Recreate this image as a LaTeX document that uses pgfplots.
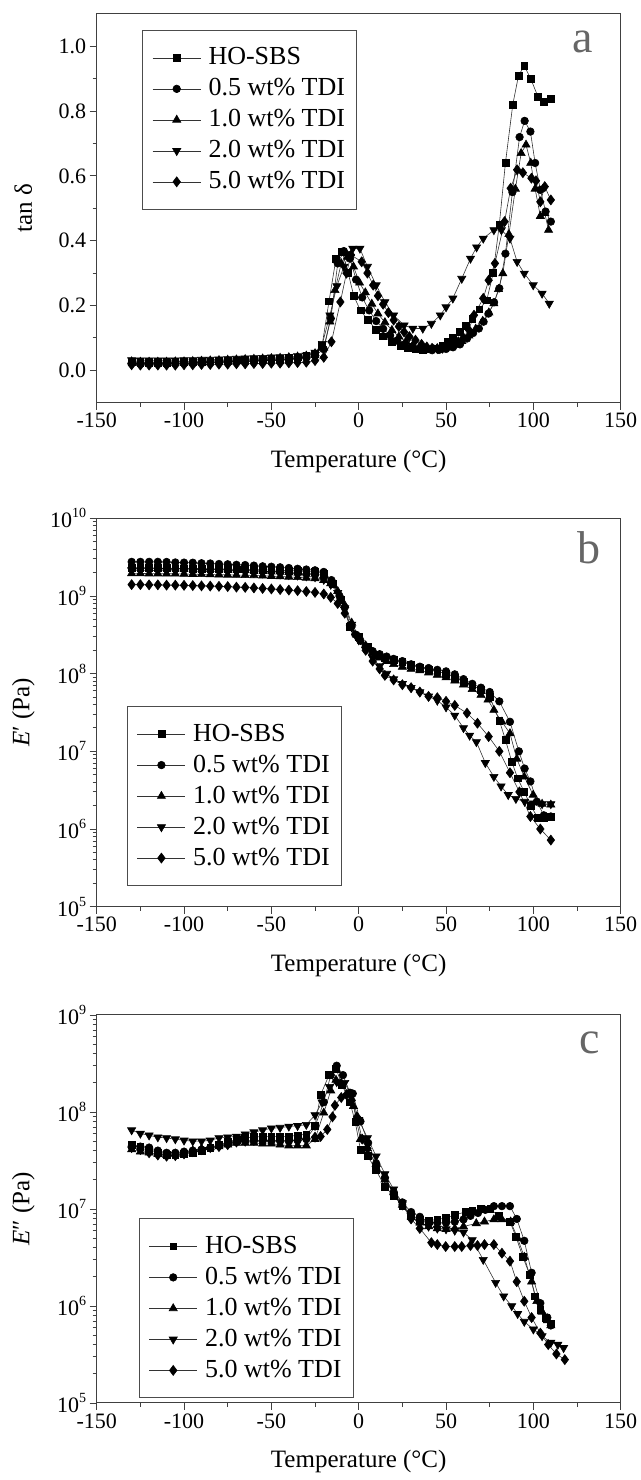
\documentclass[border=0pt]{standalone}
\usepackage{fontspec}
\setmainfont{Liberation Serif}
\usepackage{pgfplots}
\pgfplotsset{compat=1.18}
\newcommand\tp[1]{10\raisebox{0.45em}{\fontsize{14}{14}\selectfont #1}}
\tikzset{plabel/.style={font=\fontsize{46}{46}\selectfont, text=black!60, anchor=center}}
\pgfplotsset{
  myaxis/.style={
    scale only axis, width=524pt,
    xmin=-150, xmax=150, xtick={-150,-100,...,150}, minor x tick num=1,
    tick pos=left, tick align=outside,
    major tick length=7pt, minor tick length=4pt,
    axis line style={black!75, line width=1pt},
    every tick/.style={black!75, line width=0.9pt},
    /pgf/number format/assume math mode=true,
    ticklabel style={font=\fontsize{22}{24}\selectfont},
    every axis x label/.style={at={(axis description cs:0.5,-0.152)},anchor=center,font=\fontsize{25}{28}\selectfont},
    every axis y label/.style={at={(axis description cs:-0.14,0.5)},rotate=90,anchor=center,font=\fontsize{25}{28}\selectfont},
    xlabel={Temperature (°C)},
    legend cell align=left,
    legend image code/.code={\draw[##1, mark repeat=2, mark phase=2] plot coordinates {(0pt,0pt) (24pt,0pt) (48pt,0pt)};},
    legend style={draw=black!70, line width=0.8pt, font=\fontsize{26}{28}\selectfont,
      inner xsep=10pt, inner ysep=12pt, row sep=0pt,
      nodes={inner sep=1.5pt, text height=21pt, text depth=7pt},
      /tikz/every odd column/.append style={column sep=6pt}},
  },
  sA/.style={line width=0.6pt, color=black!80, mark=square*, mark size=3.4pt, mark options={solid,fill=black,draw=black}},
  sB/.style={line width=0.6pt, color=black!80, mark=*, mark size=3.8pt, mark options={solid,fill=black,draw=black}},
  sC/.style={line width=0.6pt, color=black!80, mark=triangle*, mark size=4.7pt, mark options={solid,fill=black,draw=black}},
  sD/.style={line width=0.6pt, color=black!80, mark=triangle*, mark size=4.7pt, mark options={solid,fill=black,draw=black,rotate=180}},
  sE/.style={line width=0.6pt, color=black!80, mark=diamond*, mark size=5pt, mark options={solid,fill=black,draw=black}},
}
\begin{document}
\begin{tikzpicture}
\useasboundingbox (0,0) rectangle (640pt,1480pt);
% ---------------- panel a ----------------
\begin{axis}[myaxis, height=388.7pt, at={(96.7pt,1077.3pt)}, anchor=south west,
  ymin=-0.1, ymax=1.1, ytick={0,0.2,...,1.0}, minor y tick num=1,
  yticklabel style={/pgf/number format/.cd, fixed, fixed zerofill, precision=1},
  ylabel={tan δ},
  legend style={at={(axis description cs:0.0865,0.9589)}, anchor=north west}]
\addplot[sA] coordinates {(-130,0.025)(-125,0.024)(-120,0.024)(-115,0.024)(-110,0.024)(-105,0.025)(-100,0.025)(-95,0.026)(-90,0.027)(-85,0.028)(-80,0.029)(-75,0.030)(-70,0.031)(-65,0.032)(-60,0.033)(-55,0.034)(-50,0.035)(-45,0.036)(-40,0.038)(-35,0.040)(-30,0.044)(-25,0.052)(-21,0.075)(-17,0.213)(-13,0.345)(-9.5,0.366)(-6,0.30)(-2.8,0.229)(1,0.185)(5.4,0.155)(10,0.125)(14,0.105)(19,0.087)(24,0.075)(28.3,0.068)(32.5,0.065)(36.5,0.064)(40.5,0.065)(44.7,0.068)(48,0.076)(50.8,0.088)(54,0.102)(58,0.118)(61.5,0.138)(65,0.16)(69,0.188)(73.3,0.216)(77,0.30)(80.5,0.45)(84,0.64)(88.2,0.82)(91.5,0.91)(94.8,0.94)(98.5,0.90)(102.6,0.845)(106,0.83)(110,0.837)};
\addplot[sB] coordinates {(-130,0.022)(-125,0.021)(-120,0.021)(-115,0.021)(-110,0.021)(-105,0.022)(-100,0.022)(-95,0.023)(-90,0.024)(-85,0.025)(-80,0.026)(-75,0.027)(-70,0.028)(-65,0.029)(-60,0.030)(-55,0.031)(-50,0.032)(-45,0.033)(-40,0.034)(-35,0.036)(-30,0.039)(-25,0.045)(-20,0.065)(-16,0.16)(-12,0.33)(-8.5,0.368)(-5,0.345)(-1.5,0.28)(2,0.225)(6,0.185)(10,0.152)(14,0.128)(18,0.108)(22,0.092)(26,0.080)(30,0.072)(34,0.066)(38,0.063)(42,0.062)(46,0.063)(50,0.066)(54,0.071)(58,0.080)(62,0.098)(65.5,0.115)(68.8,0.129)(71.5,0.15)(74.3,0.175)(77.5,0.21)(80.5,0.253)(84,0.36)(88,0.55)(92.1,0.72)(95,0.77)(98.3,0.737)(101,0.64)(104,0.557)(107,0.49)(110,0.459)};
\addplot[sC] coordinates {(-130,0.027)(-125,0.026)(-120,0.026)(-115,0.026)(-110,0.026)(-105,0.027)(-100,0.027)(-95,0.028)(-90,0.029)(-85,0.030)(-80,0.031)(-75,0.032)(-70,0.033)(-65,0.034)(-60,0.035)(-55,0.036)(-50,0.037)(-45,0.038)(-40,0.040)(-35,0.042)(-30,0.045)(-25,0.052)(-20,0.07)(-16.5,0.15)(-13.6,0.247)(-10,0.33)(-6.5,0.35)(-3,0.32)(0.5,0.27)(3.8,0.24)(7.5,0.205)(11,0.175)(15,0.148)(19,0.124)(23,0.104)(27,0.089)(31,0.078)(35,0.070)(39,0.066)(43,0.065)(47,0.066)(51,0.070)(55,0.078)(59,0.090)(63,0.107)(67,0.128)(71,0.152)(74.5,0.178)(77.4,0.206)(80,0.25)(82.5,0.299)(86,0.42)(89.7,0.56)(93,0.67)(95.8,0.696)(98.5,0.64)(101,0.56)(104,0.476)(106.5,0.485)(108.7,0.433)};
\addplot[sD] coordinates {(-130,0.032)(-125,0.031)(-120,0.031)(-115,0.031)(-110,0.031)(-105,0.031)(-100,0.032)(-95,0.032)(-90,0.033)(-85,0.033)(-80,0.034)(-75,0.035)(-70,0.036)(-65,0.037)(-60,0.038)(-55,0.039)(-50,0.040)(-45,0.041)(-40,0.042)(-35,0.044)(-30,0.046)(-25,0.055)(-20.8,0.082)(-16.5,0.17)(-12.5,0.26)(-8.5,0.32)(-5.5,0.36)(-3.4,0.376)(0.7,0.376)(5,0.32)(10,0.263)(15,0.211)(20,0.17)(26,0.139)(31,0.129)(36.7,0.129)(41.6,0.144)(46.7,0.17)(50,0.195)(53.9,0.222)(59,0.283)(64,0.345)(67.5,0.38)(71.3,0.407)(77.4,0.433)(81.7,0.433)(86.6,0.407)(90.7,0.335)(94.8,0.299)(99.9,0.263)(105,0.237)(109.1,0.206)};
\addplot[sE] coordinates {(-130,0.017)(-125,0.016)(-120,0.016)(-115,0.016)(-110,0.016)(-105,0.016)(-100,0.017)(-95,0.017)(-90,0.018)(-85,0.018)(-80,0.019)(-75,0.019)(-70,0.020)(-65,0.020)(-60,0.021)(-55,0.021)(-50,0.022)(-45,0.022)(-40,0.023)(-35,0.024)(-30,0.025)(-25,0.030)(-20,0.040)(-15.6,0.088)(-10.5,0.211)(-7,0.30)(-4.4,0.356)(1.7,0.335)(5,0.30)(8.3,0.263)(11,0.23)(14,0.204)(17,0.178)(20,0.155)(23,0.135)(26,0.118)(29,0.104)(32.5,0.093)(36,0.080)(39,0.072)(42,0.068)(45,0.067)(48,0.068)(51,0.072)(54,0.078)(57,0.088)(60,0.100)(63,0.125)(66,0.17)(71.3,0.222)(74.4,0.278)(78,0.33)(83.5,0.459)(87,0.562)(90.7,0.619)(94,0.61)(98.9,0.593)(101.5,0.585)(104,0.52)(106.5,0.567)(110,0.526)};
\legend{HO-SBS, 0.5 wt\% TDI, 1.0 wt\% TDI, 2.0 wt\% TDI, 5.0 wt\% TDI}
\node[plabel] at (axis description cs:0.928,0.928) {a};
\end{axis}
% ---------------- panel b ----------------
\begin{axis}[myaxis, height=388.4pt, at={(96.7pt,573.3pt)}, anchor=south west,
  ymode=log, ymin=1e5, ymax=1e10,
  ytick={1e5,1e6,1e7,1e8,1e9,1e10},
  yticklabels={\tp{5},\tp{6},\tp{7},\tp{8},\tp{9},\tp{10}},
  minor ytick={2e5,3e5,4e5,5e5,6e5,7e5,8e5,9e5,2e6,3e6,4e6,5e6,6e6,7e6,8e6,9e6,2e7,3e7,4e7,5e7,6e7,7e7,8e7,9e7,2e8,3e8,4e8,5e8,6e8,7e8,8e8,9e8,2e9,3e9,4e9,5e9,6e9,7e9,8e9,9e9},
  ylabel={\textit{E}′ (Pa)},
  legend style={at={(axis description cs:0.0573,0.0533)}, anchor=south west}]
\addplot[sA] coordinates {(-130,2.30e9)(-125,2.29e9)(-120,2.29e9)(-115,2.28e9)(-110,2.28e9)(-105,2.27e9)(-100,2.27e9)(-95,2.26e9)(-90,2.25e9)(-85,2.24e9)(-80,2.23e9)(-75,2.22e9)(-70,2.21e9)(-65,2.20e9)(-60,2.19e9)(-55,2.18e9)(-50,2.16e9)(-45,2.14e9)(-40,2.12e9)(-35,2.10e9)(-30,2.07e9)(-25,2.03e9)(-20,1.95e9)(-15,1.45e9)(-10,8.9e8)(-5,4.0e8)(0,3.0e8)(5,2.24e8)(10,1.74e8)(15,1.58e8)(20,1.51e8)(25,1.41e8)(30,1.29e8)(35,1.2e8)(40,1.12e8)(45,1.07e8)(50,1.0e8)(55,8.9e7)(60,7.9e7)(65,7.1e7)(70,6.2e7)(75,5.0e7)(80.5,2.5e7)(84,1.41e7)(87.6,7.4e6)(91,4.5e6)(94.8,3.0e6)(98.5,2.0e6)(102.6,1.38e6)(106,1.41e6)(110,1.45e6)};
\addplot[sB] coordinates {(-130,2.75e9)(-125,2.75e9)(-120,2.75e9)(-115,2.75e9)(-110,2.74e9)(-105,2.70e9)(-100,2.69e9)(-95,2.68e9)(-90,2.64e9)(-85,2.62e9)(-80,2.58e9)(-75,2.56e9)(-70,2.52e9)(-65,2.50e9)(-60,2.46e9)(-55,2.41e9)(-50,2.38e9)(-45,2.34e9)(-40,2.29e9)(-35,2.24e9)(-30,2.19e9)(-25,2.14e9)(-20,2.04e9)(-15.6,1.6e9)(-11,1.0e9)(-8,7.1e8)(-5,4.2e8)(-2,3.2e8)(1,2.65e8)(4,2.25e8)(8,1.95e8)(12,1.78e8)(16,1.66e8)(20,1.55e8)(25,1.45e8)(30,1.32e8)(35,1.23e8)(40,1.18e8)(45,1.12e8)(50,1.07e8)(55,9.8e7)(60,8.5e7)(65,7.4e7)(70,6.6e7)(75,5.8e7)(80.5,4.4e7)(86.6,2.4e7)(91.7,1.0e7)(95,6.0e6)(98.3,4.1e6)(102,2.25e6)(106,1.5e6)(110,1.45e6)};
\addplot[sC] coordinates {(-130,1.95e9)(-125,1.95e9)(-120,1.94e9)(-115,1.94e9)(-110,1.93e9)(-105,1.93e9)(-100,1.92e9)(-95,1.91e9)(-90,1.90e9)(-85,1.89e9)(-80,1.88e9)(-75,1.87e9)(-70,1.86e9)(-65,1.85e9)(-60,1.84e9)(-55,1.82e9)(-50,1.80e9)(-45,1.78e9)(-40,1.76e9)(-35,1.74e9)(-30,1.71e9)(-25,1.68e9)(-20,1.60e9)(-16,1.45e9)(-12,1.15e9)(-8,7.6e8)(-4,4.5e8)(0,3.0e8)(4,2.3e8)(8,1.85e8)(12,1.6e8)(16,1.45e8)(20,1.32e8)(25,1.22e8)(30,1.15e8)(35,1.10e8)(40,1.03e8)(45,9.6e7)(50,8.9e7)(55,8.1e7)(60,7.2e7)(65,6.3e7)(70,5.3e7)(74,4.6e7)(77.4,3.4e7)(82,2.4e7)(86.6,1.7e7)(90.5,8.0e6)(94.8,4.7e6)(99.9,2.75e6)(105,2.1e6)(110,2.05e6)};
\addplot[sD] coordinates {(-130,2.15e9)(-125,2.14e9)(-120,2.13e9)(-115,2.12e9)(-110,2.11e9)(-105,2.10e9)(-100,2.09e9)(-95,2.08e9)(-90,2.07e9)(-85,2.06e9)(-80,2.05e9)(-75,2.04e9)(-70,2.02e9)(-65,2.0e9)(-60,1.98e9)(-55,1.96e9)(-50,1.93e9)(-45,1.90e9)(-40,1.87e9)(-35,1.84e9)(-30,1.80e9)(-25,1.75e9)(-20,1.62e9)(-16,1.40e9)(-12,1.1e9)(-8,7.0e8)(-4,4.3e8)(0,2.7e8)(4,2.05e8)(8,1.6e8)(12,1.25e8)(16,1.0e8)(20,8.5e7)(25,7.4e7)(30,6.6e7)(35,5.8e7)(40,5.1e7)(45,4.5e7)(50,3.7e7)(55,2.9e7)(60,2.0e7)(63.5,1.6e7)(67.4,1.32e7)(72.5,7.1e6)(77.4,4.7e6)(81.5,3.55e6)(85.6,2.75e6)(90,2.45e6)(95,2.25e6)(100,2.15e6)(105,2.1e6)(110,2.1e6)};
\addplot[sE] coordinates {(-130,1.40e9)(-125,1.40e9)(-120,1.39e9)(-115,1.39e9)(-110,1.38e9)(-105,1.38e9)(-100,1.37e9)(-95,1.36e9)(-90,1.35e9)(-85,1.34e9)(-80,1.33e9)(-75,1.32e9)(-70,1.30e9)(-65,1.29e9)(-60,1.27e9)(-55,1.25e9)(-50,1.23e9)(-45,1.21e9)(-40,1.19e9)(-35,1.17e9)(-30,1.14e9)(-25,1.11e9)(-20,1.06e9)(-16,9.6e8)(-12,8.0e8)(-8,6.0e8)(-4,4.0e8)(0,2.8e8)(4,2.0e8)(8,1.45e8)(12,1.15e8)(15,9.5e7)(20,8.3e7)(25,7.2e7)(30,6.6e7)(35,5.8e7)(40,5.1e7)(45,4.9e7)(50,4.4e7)(55,3.9e7)(62,3.1e7)(68,2.3e7)(74.4,1.55e7)(80.5,1.0e7)(86.6,5.3e6)(92,3.0e6)(98.3,1.45e6)(104,1.0e6)(110,7.2e5)};
\legend{HO-SBS, 0.5 wt\% TDI, 1.0 wt\% TDI, 2.0 wt\% TDI, 5.0 wt\% TDI}
\node[plabel] at (axis description cs:0.9395,0.9235) {b};
\end{axis}
% ---------------- panel c ----------------
\begin{axis}[myaxis, height=388pt, at={(96.7pt,77pt)}, anchor=south west,
  ymode=log, ymin=1e5, ymax=1e9,
  ytick={1e5,1e6,1e7,1e8,1e9},
  yticklabels={\tp{5},\tp{6},\tp{7},\tp{8},\tp{9}},
  minor ytick={2e5,3e5,4e5,5e5,6e5,7e5,8e5,9e5,2e6,3e6,4e6,5e6,6e6,7e6,8e6,9e6,2e7,3e7,4e7,5e7,6e7,7e7,8e7,9e7,2e8,3e8,4e8,5e8,6e8,7e8,8e8,9e8},
  ylabel={\textit{E}″ (Pa)},
  legend style={at={(axis description cs:0.0798,0.0121)}, anchor=south west}]
\addplot[sA] coordinates {(-130,4.6e7)(-125,4.4e7)(-120,4.1e7)(-115,3.8e7)(-110,3.6e7)(-105,3.6e7)(-100,3.7e7)(-95,3.8e7)(-90,4.0e7)(-85,4.3e7)(-80,4.6e7)(-75,4.9e7)(-70,5.2e7)(-65,5.4e7)(-60,5.5e7)(-55,5.6e7)(-50,5.6e7)(-45,5.6e7)(-40,5.6e7)(-35,5.75e7)(-30,5.9e7)(-25,7.2e7)(-21.8,1.5e8)(-17,2.4e8)(-13,2.8e8)(-9.5,1.9e8)(-5,1.26e8)(-2,7.9e7)(1,4.1e7)(5,3.55e7)(10,2.5e7)(15,1.7e7)(20,1.38e7)(25,1.07e7)(30,8.5e6)(35,7.8e6)(40,7.6e6)(45,7.8e6)(50,8.1e6)(55,8.7e6)(61,9.3e6)(65,9.5e6)(70,1.0e7)(75.3,1.0e7)(80,8.5e6)(86.6,7.4e6)(90,5.2e6)(94,3.2e6)(97.9,2.1e6)(101,1.26e6)(104,9.1e5)(107,7.6e5)(110,6.6e5)};
\addplot[sB] coordinates {(-130,4.4e7)(-125,4.4e7)(-120,4.3e7)(-115,4.0e7)(-110,3.8e7)(-105,3.8e7)(-100,3.9e7)(-95,4.0e7)(-90,4.1e7)(-85,4.3e7)(-80,4.5e7)(-75,4.7e7)(-70,4.9e7)(-65,5.0e7)(-60,5.0e7)(-55,5.0e7)(-50,5.0e7)(-45,5.0e7)(-40,5.0e7)(-35,5.1e7)(-30,5.25e7)(-25,7.1e7)(-20,1.26e8)(-16,2.4e8)(-12.6,3.0e8)(-9,2.4e8)(-5,1.58e8)(-3.4,1.55e8)(1,8.0e7)(5.4,4.8e7)(10,2.95e7)(15,2.1e7)(20,1.5e7)(25,1.17e7)(30,9.3e6)(35,8.3e6)(40,7.4e6)(45,7.2e6)(50,7.2e6)(55,7.4e6)(60,7.8e6)(64,8.5e6)(68.3,9.1e6)(72.5,9.8e6)(77.4,1.07e7)(82,1.07e7)(86.6,1.07e7)(90.5,7.9e6)(94.8,4.7e6)(99,2.2e6)(104,1.07e6)(108,7.6e5)(110,6.3e5)};
\addplot[sC] coordinates {(-130,4.1e7)(-125,3.9e7)(-120,3.8e7)(-115,3.7e7)(-110,3.6e7)(-105,3.7e7)(-100,3.8e7)(-95,4.0e7)(-90,4.1e7)(-85,4.3e7)(-80,4.4e7)(-75,4.6e7)(-70,4.8e7)(-65,4.8e7)(-60,4.8e7)(-55,4.7e7)(-50,4.7e7)(-45,4.6e7)(-40,4.5e7)(-35,4.5e7)(-30,4.5e7)(-25,5.25e7)(-20,9.8e7)(-16,1.66e8)(-13,2.14e8)(-10,2.0e8)(-6,1.5e8)(-3,1.15e8)(1,5.25e7)(5,4.2e7)(10,2.9e7)(15,2.0e7)(20,1.48e7)(25,1.1e7)(30,8.3e6)(35,7.2e6)(40,6.6e6)(45,6.3e6)(50,6.2e6)(55,6.3e6)(60,6.6e6)(67.3,7.1e6)(72,7.4e6)(77.4,7.8e6)(82,7.8e6)(87,7.4e6)(91,5.0e6)(94.8,3.2e6)(99,1.78e6)(102,1.12e6)(105,8.7e5)(108,7.1e5)(110,6.3e5)};
\addplot[sD] coordinates {(-130,6.5e7)(-125,6.0e7)(-120,5.75e7)(-115,5.5e7)(-110,5.4e7)(-105,5.25e7)(-100,5.1e7)(-95,5.0e7)(-90,5.0e7)(-85,5.1e7)(-80,5.4e7)(-75,5.5e7)(-70,5.6e7)(-65,5.9e7)(-60,6.2e7)(-55,6.5e7)(-50,6.8e7)(-45,6.9e7)(-40,7.1e7)(-35,7.2e7)(-30,7.4e7)(-25,9.3e7)(-21,1.26e8)(-16.7,1.82e8)(-12.6,2.04e8)(-8,2.0e8)(-4,1.45e8)(0,8.3e7)(5,5.4e7)(10,3.5e7)(15,2.3e7)(20,1.6e7)(25,1.15e7)(30,8.5e6)(35,7.2e6)(40,6.6e6)(45,6.3e6)(50,6.2e6)(55,6.0e6)(60,5.75e6)(65,4.8e6)(71.3,3.0e6)(78.4,1.74e6)(83,1.26e6)(87.6,1.0e6)(91,8.3e5)(94.8,6.9e5)(100,5.75e5)(105,4.9e5)(110,4.2e5)(114,4.0e5)(117.3,3.7e5)};
\addplot[sE] coordinates {(-130,4.3e7)(-125,4.1e7)(-120,3.8e7)(-115,3.6e7)(-110,3.5e7)(-105,3.55e7)(-100,3.7e7)(-95,3.9e7)(-90,4.1e7)(-85,4.3e7)(-80,4.4e7)(-75,4.6e7)(-70,4.9e7)(-65,5.0e7)(-60,5.1e7)(-55,5.1e7)(-50,5.1e7)(-45,5.1e7)(-40,5.1e7)(-35,5.1e7)(-30,5.25e7)(-25,5.5e7)(-21.8,5.6e7)(-18,6.6e7)(-15,8.9e7)(-13.6,1.17e8)(-10,1.41e8)(-7,1.51e8)(-4,1.32e8)(-1,8.9e7)(2,5.25e7)(5,4.2e7)(10,2.8e7)(15,2.1e7)(20,1.45e7)(25,1.1e7)(30,7.9e6)(35,6.3e6)(41.6,4.5e6)(45,4.3e6)(49.8,4.1e6)(55,4.1e6)(59,4.1e6)(64,4.2e6)(68,4.2e6)(72,4.3e6)(77.4,4.3e6)(82,3.5e6)(86.6,2.9e6)(90.5,1.78e6)(94.8,1.12e6)(99,7.6e5)(104,5.25e5)(108.5,4.0e5)(113.2,3.2e5)(118,2.8e5)};
\legend{HO-SBS, 0.5 wt\% TDI, 1.0 wt\% TDI, 2.0 wt\% TDI, 5.0 wt\% TDI}
\node[plabel] at (axis description cs:0.9414,0.928) {c};
\end{axis}
\end{tikzpicture}
\end{document}
